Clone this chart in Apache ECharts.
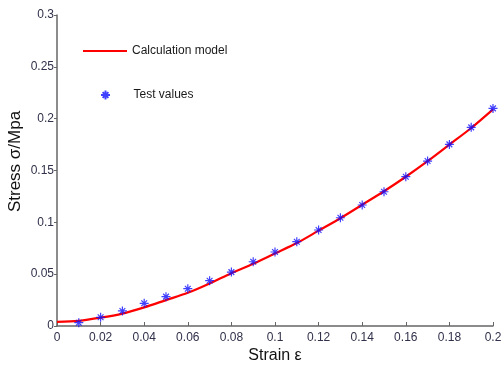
<!DOCTYPE html>
<html><head><meta charset="utf-8">
<script src="https://cdn.jsdelivr.net/npm/echarts@6/dist/echarts.min.js"></script>
<style>html,body{margin:0;padding:0;background:#fff}#c{width:502px;height:366px}</style>
</head><body><div id="c"></div>
<script>
var strainModel = [0,0.01,0.02,0.03,0.04,0.05,0.06,0.07,0.08,0.09,0.10,0.11,0.12,0.13,0.14,0.15,0.16,0.17,0.18,0.19,0.20];
var stressModel = [0.004,0.005,0.008,0.012,0.018,0.025,0.032,0.041,0.051,0.060,0.070,0.080,0.092,0.104,0.117,0.130,0.144,0.159,0.175,0.191,0.209];
var strainTest = [0.01,0.02,0.03,0.04,0.05,0.06,0.07,0.08,0.09,0.10,0.11,0.12,0.13,0.14,0.15,0.16,0.17,0.18,0.19,0.20];
var stressTest = [0.0032,0.0084,0.0145,0.0219,0.0283,0.036,0.0437,0.052,0.062,0.0714,0.0813,0.0926,0.1044,0.1167,0.1295,0.144,0.1591,0.1752,0.1916,0.2099];
var xTicks = ['0','0.02','0.04','0.06','0.08','0.1','0.12','0.14','0.16','0.18','0.2'];
var yTicks = ['0','0.05','0.1','0.15','0.2','0.25','0.3'];

var FONT = 'Liberation Sans, Arial, sans-serif';
var star = 'path://M0,5 L10,5 M5,0 L5,10 M1.8,1.8 L8.2,8.2 M8.2,1.8 L1.8,8.2';
var chart = echarts.init(document.getElementById('c'));
chart.setOption({
  animation: false,
  grid: {left: 57, right: 9, top: 15, bottom: 40, containLabel: false, outerBoundsMode: 'none'},
  legend: [
    {data: [{name: 'Calculation model', icon: 'rect'}], left: 83, top: 45, padding: 0, itemWidth: 44, itemHeight: 2,
     textStyle: {fontFamily: FONT, fontSize: 12, color: '#1a1a1a'}},
    {data: ['Test values'], left: 100, top: 89, padding: 0, itemWidth: 18, itemHeight: 9,
     textStyle: {fontFamily: FONT, fontSize: 12, color: '#1a1a1a', padding: [0,0,0,14]}}
  ],
  xAxis: {
    type: 'value', min: 0, max: 0.2, interval: 0.02,
    name: 'Strain ε', nameLocation: 'middle', nameGap: 22, nameMoveOverlap: false,
    nameTextStyle: {fontFamily: FONT, fontSize: 16, color: '#111'},
    axisLine: {lineStyle: {color: '#666', width: 1.5}},
    axisTick: {inside: true, length: 4, lineStyle: {color: '#666'}},
    axisLabel: {fontFamily: FONT, fontSize: 12, color: '#30304a', margin: 6,
      formatter: function(v){ var i = Math.round(v/0.02); return xTicks[i]; }},
    splitLine: {show: false}
  },
  yAxis: {
    type: 'value', min: 0, max: 0.3, interval: 0.05,
    name: 'Stress σ/Mpa', nameLocation: 'middle', nameGap: 33, nameRotate: 90, nameMoveOverlap: false,
    nameTextStyle: {fontFamily: FONT, fontSize: 17, color: '#111', padding: [0,0,0,18]},
    axisLine: {show: true, lineStyle: {color: '#666', width: 1.5}},
    axisTick: {show: true, inside: false, length: 3, lineStyle: {color: '#666'}},
    axisLabel: {fontFamily: FONT, fontSize: 12, color: '#30304a', margin: 3,
      formatter: function(v){ var i = Math.round(v/0.05); return yTicks[i]; }},
    splitLine: {show: false}
  },
  series: [
    {name: 'Calculation model', type: 'line', smooth: 0.3, symbol: 'none',
     lineStyle: {color: '#ff0000', width: 2.2}, itemStyle: {color: '#ff0000'},
     data: strainModel.map(function(x,i){return [x, stressModel[i]];}), z: 2},
    {name: 'Test values', type: 'scatter', symbol: star, symbolSize: 9,
     itemStyle: {color: 'rgba(0,0,0,0)', borderColor: '#1010ff', borderWidth: 1.2},
     data: strainTest.map(function(x,i){return [x, stressTest[i]];}), z: 3}
  ]
});
</script></body></html>
